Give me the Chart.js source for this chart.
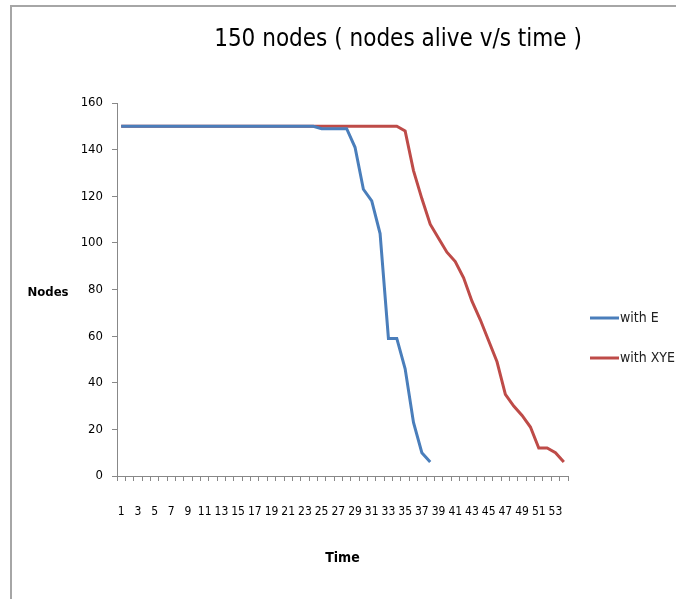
<!DOCTYPE html>
<html>
<head>
<meta charset="utf-8">
<script src="https://cdn.jsdelivr.net/npm/chart.js@4.4.1/dist/chart.umd.min.js"></script>
<style>
  html, body { margin: 0; padding: 0; background: white; }
  #wrap { position: relative; width: 676px; height: 599px; }
  #frame { position: absolute; left: 10px; top: 5px; right: 0; bottom: 0;
           border-top: 2px solid #a6a6a6; border-left: 2px solid #a6a6a6; }
  canvas { position: absolute; left: 0; top: 0; }
</style>
</head>
<body>
<div id="wrap">
  <div id="frame"></div>
  <canvas id="myChart" width="676" height="599"></canvas>
</div>
<script>
// values
var timeLabels = [1, 2, 3, 4, 5, 6, 7, 8, 9, 10, 11, 12, 13, 14, 15, 16, 17, 18,
  19, 20, 21, 22, 23, 24, 25, 26, 27, 28, 29, 30, 31, 32, 33, 34, 35, 36,
  37, 38, 39, 40, 41, 42, 43, 44, 45, 46, 47, 48, 49, 50, 51, 52, 53, 54];

var withE = [150, 150, 150, 150, 150, 150, 150, 150, 150, 150, 150, 150,
  150, 150, 150, 150, 150, 150, 150, 150, 150, 150, 150, 150,
  149, 149, 149, 149, 141, 123, 118, 104, 59, 59, 46, 23, 10, 6];

var withXYE = [150, 150, 150, 150, 150, 150, 150, 150, 150, 150, 150, 150,
  150, 150, 150, 150, 150, 150, 150, 150, 150, 150, 150, 150,
  150, 150, 150, 150, 150, 150, 150, 150, 150, 150, 148, 131, 119, 108,
  102, 96, 92, 85, 75, 67, 58, 49, 35, 30, 26, 21, 12, 12, 10, 6];

var yTicks = [0, 20, 40, 60, 80, 100, 120, 140, 160];

var FONT = '"DejaVu Sans Condensed", "Liberation Sans Narrow", sans-serif';

// title, axis names and legend drawn by hand (excel style placement)
var textPlugin = {
  id: "excelText",
  afterDraw: function (chart) {
    var ctx = chart.ctx;
    var area = chart.chartArea;
    ctx.save();
    ctx.fillStyle = "#000";
    ctx.textBaseline = "middle";
    ctx.textAlign = "center";
    ctx.font = "24px " + FONT;
    ctx.fillText("150 nodes ( nodes alive v/s time )", 398, 40);
    ctx.font = "bold 13px " + FONT;
    ctx.fillText("Nodes", 48, 293);
    ctx.font = "bold 14px " + FONT;
    ctx.fillText("Time", (area.left + area.right) / 2, 558);

    ctx.textAlign = "left";
    ctx.font = "14px " + FONT;
    chart.data.datasets.forEach(function (ds, i) {
      var y = 318 + i * 40;
      ctx.strokeStyle = ds.borderColor;
      ctx.lineWidth = 3;
      ctx.beginPath();
      ctx.moveTo(590, y);
      ctx.lineTo(619, y);
      ctx.stroke();
      ctx.fillStyle = "#222";
      ctx.fillText(ds.label, 620, y);
    });
    ctx.restore();
  },
};

var ctx = document.getElementById("myChart").getContext("2d");
var myChart = new Chart(ctx, {
  type: "line",
  data: {
    labels: timeLabels,
    datasets: [
      {
        label: "with E",
        data: withE,
        borderColor: "#4a7ebb",
        borderWidth: 3,
        pointRadius: 0,
        tension: 0,
        fill: false,
      },
      {
        label: "with XYE",
        data: withXYE,
        borderColor: "#be4b48",
        borderWidth: 3,
        pointRadius: 0,
        tension: 0,
        fill: false,
      },
    ],
  },
  options: {
    responsive: false,
    animation: false,
    layout: { padding: { left: 0, right: 108, top: 103, bottom: 0 } },
    plugins: {
      legend: { display: false },
      title: { display: false },
      tooltip: { enabled: false },
    },
    scales: {
      x: {
        type: "category",
        offset: true,
        grid: {
          offset: true,
          drawOnChartArea: false,
          drawTicks: true,
          tickLength: 5,
          color: "#888",
        },
        border: { color: "#888", width: 1 },
        ticks: {
          autoSkip: false,
          maxRotation: 0,
          minRotation: 0,
          padding: 24,
          color: "#000",
          font: { family: FONT, size: 12 },
          callback: function (val, index) {
            return index % 2 === 0 ? timeLabels[index] : "";
          },
        },
        afterFit: function (scale) {
          scale.height = 123;
        },
      },
      y: {
        min: yTicks[0],
        max: yTicks[yTicks.length - 1],
        afterBuildTicks: function (scale) {
          scale.ticks = yTicks.map(function (v) { return { value: v }; });
        },
        grid: {
          drawOnChartArea: false,
          drawTicks: true,
          tickLength: 5,
          color: "#888",
        },
        border: { color: "#888", width: 1 },
        ticks: {
          padding: 9,
          color: "#000",
          font: { family: FONT, size: 13 },
        },
        afterFit: function (scale) {
          scale.width = 117;
        },
      },
    },
  },
  plugins: [textPlugin],
});
</script>
</body>
</html>
